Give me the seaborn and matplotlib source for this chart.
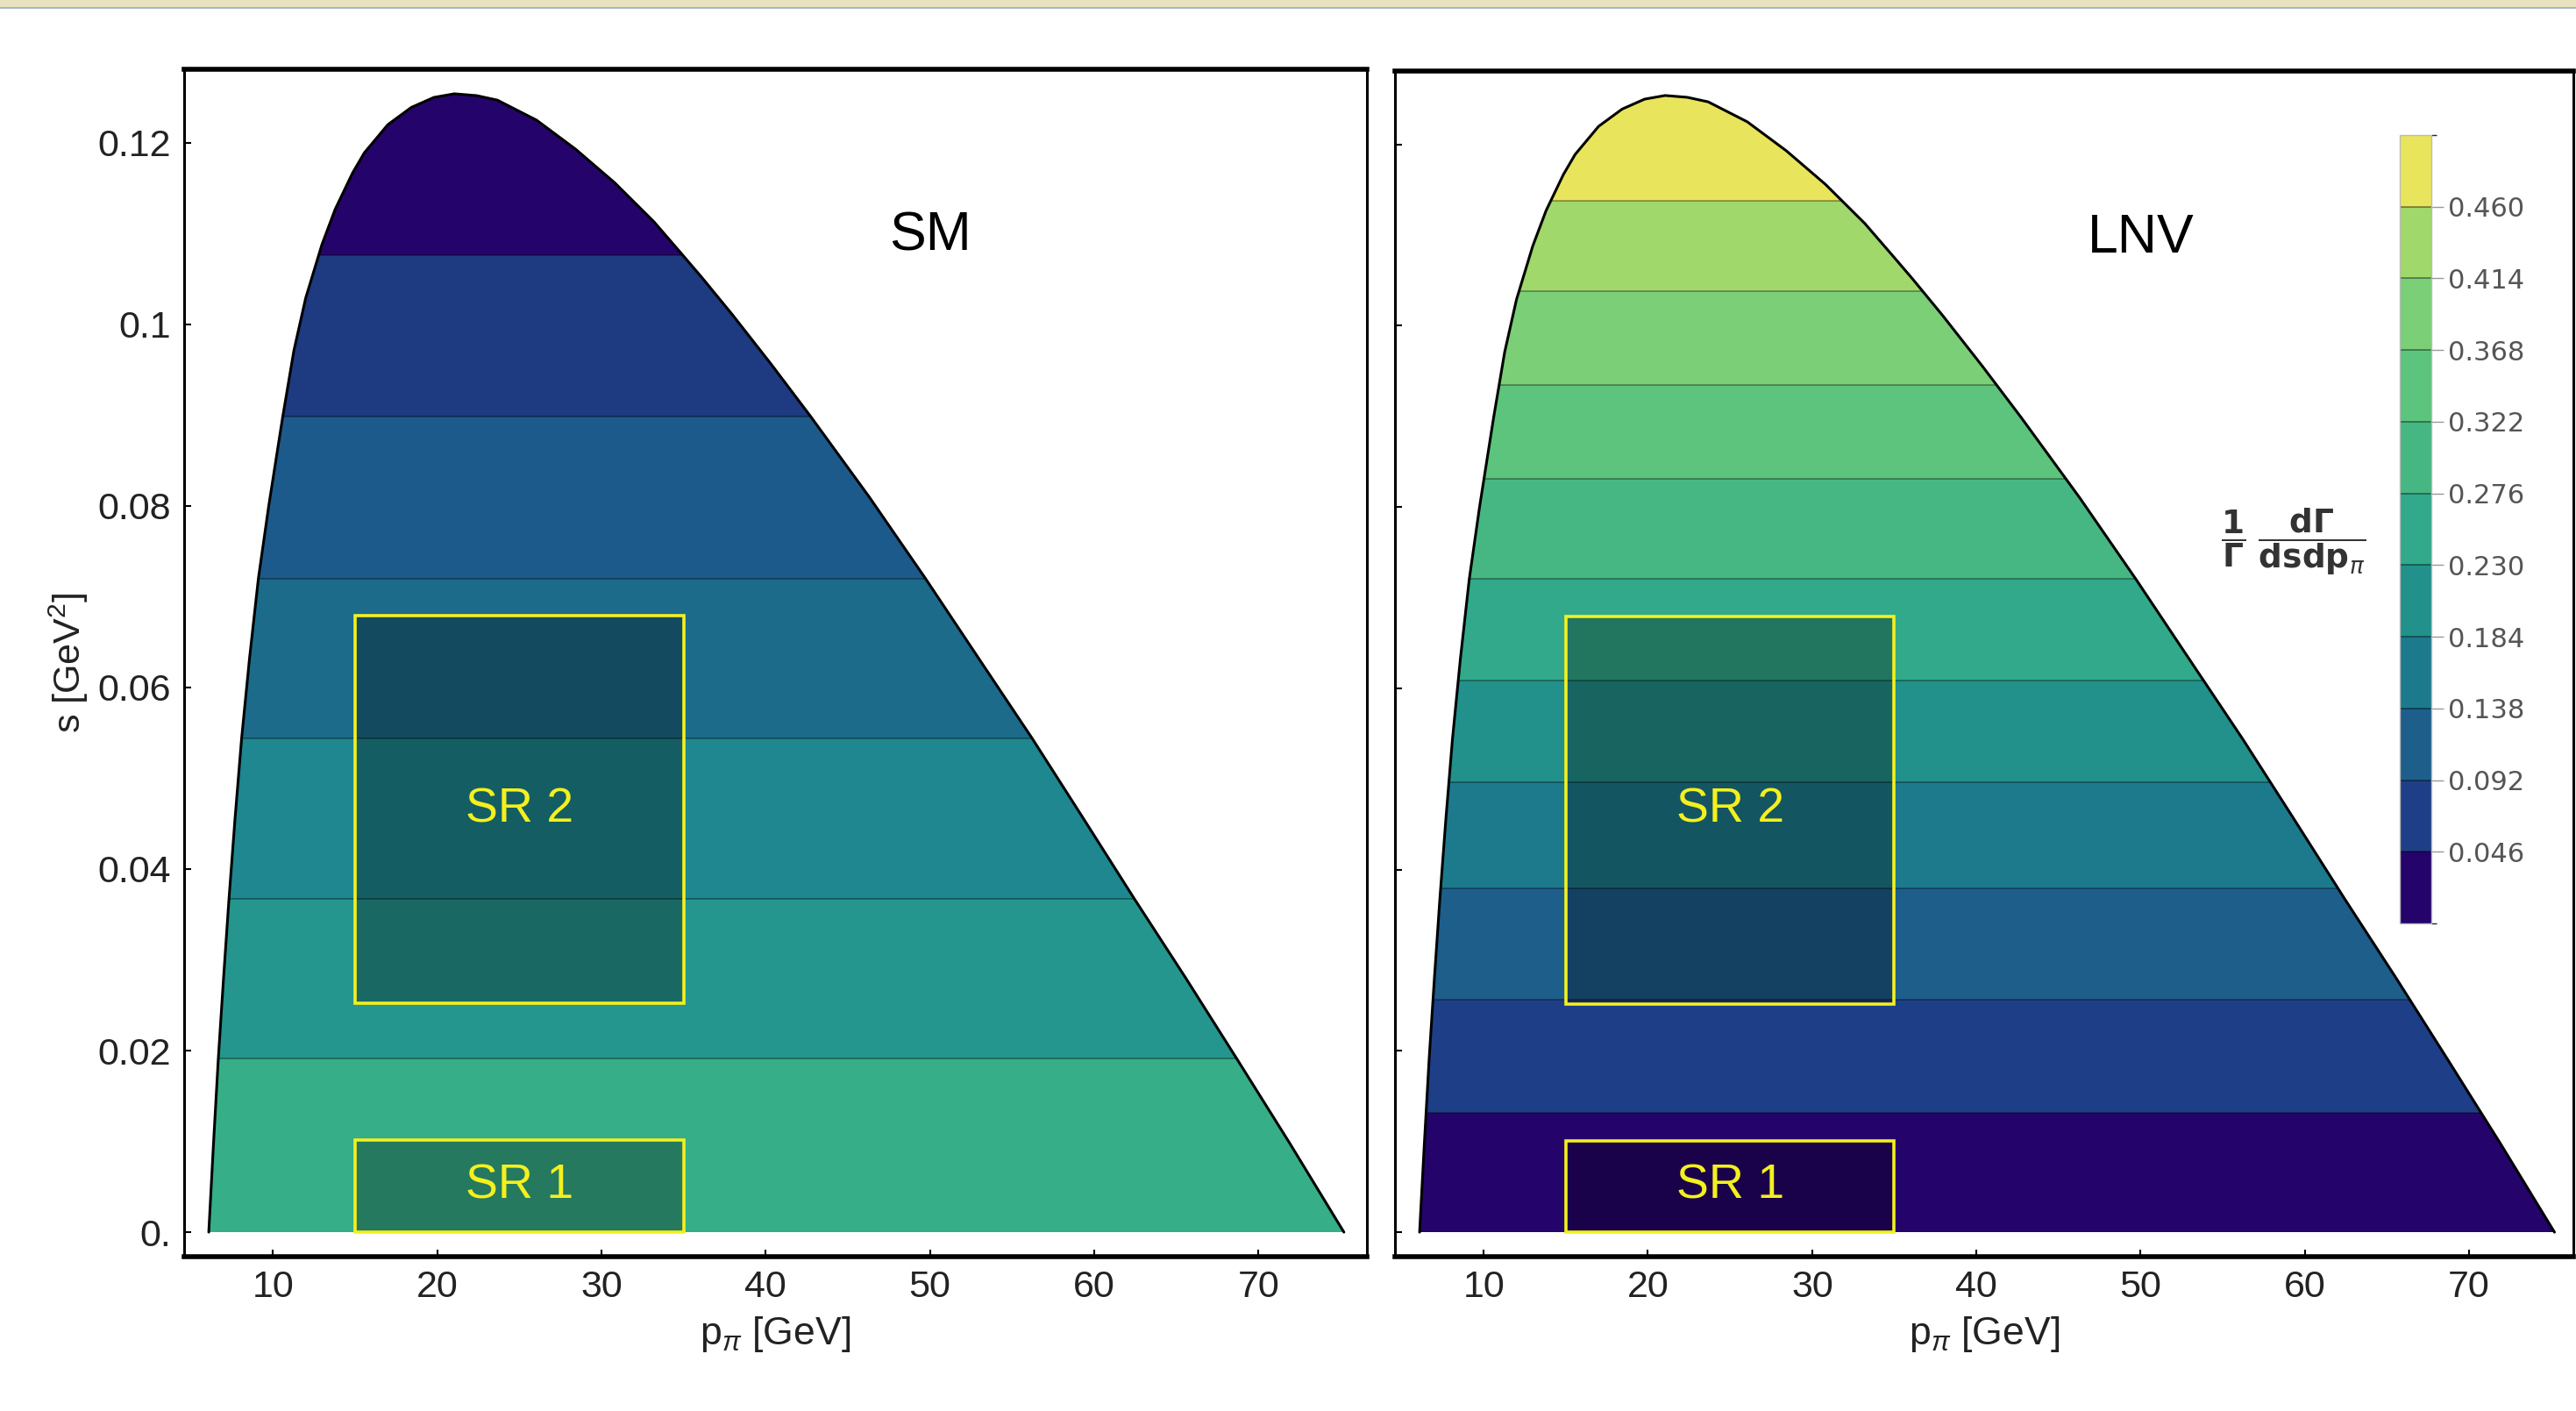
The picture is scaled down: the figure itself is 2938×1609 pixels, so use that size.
import numpy as np
import matplotlib
matplotlib.use("Agg")
import matplotlib.pyplot as plt
import seaborn as sns
import pandas as pd
from matplotlib.patches import Polygon, Rectangle
from matplotlib.colors import ListedColormap, BoundaryNorm
import matplotlib as mpl

# ---------------- data ----------------
# kinematic boundary of the (p_pi, s) region
boundary_p = [6.1, 6.38, 6.68, 7.0, 7.33, 7.7, 8.1, 8.58, 9.12, 9.75, 10.6, 11.28,
              12.0, 12.99, 13.8, 14.86, 15.57, 17.0, 18.43, 19.8, 21.05, 22.4, 23.67,
              26.05, 28.43, 30.81, 33.2, 34.87, 36.1, 37.96, 40.34, 42.72, 46.3,
              49.73, 52.97, 56.22, 59.33, 62.45, 65.57, 68.68, 71.9, 75.2]
boundary_s = [0.0, 0.0095, 0.0191, 0.0280, 0.0367, 0.0456, 0.0544, 0.0632, 0.0720,
              0.0800, 0.0898, 0.0971, 0.1029, 0.1088, 0.1127, 0.1167, 0.1189, 0.1220,
              0.1239, 0.1250, 0.1254, 0.1252, 0.1247, 0.1225, 0.1193, 0.1156, 0.1113,
              0.1078, 0.1052, 0.1011, 0.0956, 0.0899, 0.0810, 0.0720, 0.0632, 0.0544,
              0.0456, 0.0367, 0.0280, 0.0191, 0.0098, 0.0]

# SM panel: band edges in s and band colours (bottom to top)
sm_edges = [0.0, 0.0191, 0.0367, 0.0544, 0.0720, 0.0898, 0.1076, 0.14]
sm_colors = ["#36ae88", "#25968e", "#1e878f", "#1c6b8a", "#1d5a8c", "#1e3a80", "#24046a"]

# LNV panel: band edges in s and band values of (1/Gamma) dGamma/(ds dp)
lnv_edges = [0.0, 0.0132, 0.0256, 0.0379, 0.0496, 0.0609, 0.0721, 0.0831, 0.0935,
             0.1038, 0.1138, 0.14]
lnv_values = [0.023, 0.069, 0.115, 0.161, 0.207, 0.253, 0.299, 0.345, 0.391, 0.437, 0.483]

# colour bar
cbar_levels = [0.0, 0.046, 0.092, 0.138, 0.184, 0.230, 0.276, 0.322, 0.368, 0.414, 0.460, 0.506]
cbar_ticks = [0.046, 0.092, 0.138, 0.184, 0.230, 0.276, 0.322, 0.368, 0.414, 0.460]
cbar_colors = ["#24046a", "#1e3f87", "#1d5e8b", "#1d7a8d", "#22908b", "#31a98a",
               "#46b782", "#5cc47c", "#7bcf77", "#a0d86b", "#e8e45c"]

# signal regions: (name, p range, s range)
sr_names = ["SR 1", "SR 2"]
sr_p = [(15, 35), (15, 35)]
sr_s = [(0.0, 0.0101), (0.0252, 0.0679)]

x_ticks = [10, 20, 30, 40, 50, 60, 70]
y_ticks = [0.0, 0.02, 0.04, 0.06, 0.08, 0.10, 0.12]
y_ticklabels = ["0.", "0.02", "0.04", "0.06", "0.08", "0.1", "0.12"]

# ---------------- styling ----------------
sns.set_theme(style="white")
plt.rcParams["font.family"] = ["Liberation Sans", "DejaVu Sans"]
plt.rcParams["mathtext.fontset"] = "custom"
plt.rcParams["mathtext.rm"] = "Liberation Sans"
plt.rcParams["mathtext.it"] = "Liberation Sans:italic"

W, H = 2938, 1609
fig = plt.figure(figsize=(W / 100, H / 100), dpi=100)
fig.patch.set_facecolor("white")

# screenshot strip at the very top
fig.patches.append(Rectangle((0, 1 - 8 / H), 1, 8 / H, transform=fig.transFigure,
                             facecolor="#e9e2bf", edgecolor="none"))
fig.patches.append(Rectangle((0, 1 - 10 / H), 1, 2 / H, transform=fig.transFigure,
                             facecolor="#a9b6c9", edgecolor="none"))

ax_sm = fig.add_axes([210 / W, 1 - 1433 / H, (1559 - 210) / W, (1433 - 79) / H])
ax_lnv = fig.add_axes([1591 / W, 1 - 1433 / H, (2935 - 1591) / W, (1433 - 81) / H])
cax = fig.add_axes([2737 / W, 1 - 1053 / H, 36 / W, (1053 - 154) / H])

cmap = ListedColormap(cbar_colors)
norm = BoundaryNorm(cbar_levels, cmap.N)
lnv_colors = [cmap(norm(v)) for v in lnv_values]

df_boundary = pd.DataFrame({"p": boundary_p, "s": boundary_s})


def draw_panel(ax, edges, colors, title, xlim):
    poly = Polygon(np.column_stack([boundary_p, boundary_s]), closed=True,
                   facecolor="none", edgecolor="none", transform=ax.transData)
    ax.add_patch(poly)
    for lo, hi, c in zip(edges[:-1], edges[1:], colors):
        span = ax.axhspan(lo, hi, facecolor=c, edgecolor="none", lw=0, zorder=1)
        span.set_clip_path(poly)
    for e in edges[1:-1]:
        ln = ax.axhline(e, color="black", alpha=0.35, lw=1.3, zorder=2)
        ln.set_clip_path(poly)
    sns.lineplot(data=df_boundary, x="p", y="s", sort=False, estimator=None,
                 color="black", lw=2.2, ax=ax, zorder=3)
    for name, (p0, p1), (s0, s1) in zip(sr_names, sr_p, sr_s):
        ax.add_patch(Rectangle((p0, s0), p1 - p0, s1 - s0, facecolor="black",
                               alpha=0.3, edgecolor="none", zorder=4))
        ax.add_patch(Rectangle((p0, s0), p1 - p0, s1 - s0, facecolor="none",
                               edgecolor="#f4f01e", lw=2.6, zorder=5))
        ax.text((p0 + p1) / 2, (s0 + s1) / 2, name, color="#f4f01e", fontsize=40,
                ha="center", va="center", zorder=6)
    ax.text(50.0, 0.1097, title, fontsize=45, ha="center", va="center", color="black")
    ax.set_xlim(*xlim)
    ax.set_ylim(-0.0027, 0.1281)
    ax.set_xticks(x_ticks)
    ax.set_xticklabels([str(t) for t in x_ticks])
    ax.set_yticks(y_ticks)
    ax.tick_params(axis="both", direction="in", length=6, width=1.5, color="black",
                   labelsize=31, labelcolor="#222222", pad=11,
                   bottom=True, left=True, top=False, right=False)
    ax.set_xlabel(r"p$_\pi$ [GeV]", fontsize=32, color="#222222", labelpad=8)
    for side in ["top", "bottom"]:
        ax.spines[side].set_linewidth(4.0)
    for side in ["left", "right"]:
        ax.spines[side].set_linewidth(2.2)
    for sp in ax.spines.values():
        sp.set_color("black")
        sp.set_visible(True)
    ax.set_facecolor("white")


draw_panel(ax_sm, sm_edges, sm_colors, "SM", (4.6, 76.6))
draw_panel(ax_lnv, lnv_edges, lnv_colors, "LNV", (4.6, 76.35))

ax_sm.set_yticklabels(y_ticklabels)
ax_sm.set_ylabel(r"s [GeV$^2$]", fontsize=31, color="#222222", labelpad=6)
ax_lnv.set_yticklabels([])
ax_lnv.set_ylabel("")

# colour bar
cb = mpl.colorbar.ColorbarBase(cax, cmap=cmap, norm=norm, boundaries=cbar_levels,
                               ticks=cbar_ticks, spacing="proportional",
                               drawedges=True, orientation="vertical")
cb.dividers.set_color((0, 0, 0, 0.45))
cb.dividers.set_linewidth(1.2)
cb.outline.set_edgecolor("#bbbbbb")
cb.outline.set_linewidth(1.0)
cax.set_yticklabels([f"{t:.3f}" for t in cbar_ticks])
cax.tick_params(axis="y", direction="out", length=10, width=1.0, color="#999999",
                labelsize=22, labelcolor="#555555", pad=4, right=True, left=False)
for lab in cax.get_yticklabels():
    lab.set_fontfamily("DejaVu Sans")

fig.text(2616 / W, 1 - 618 / H,
         r"$\dfrac{\mathbf{1}}{\mathbf{\Gamma}}\ \dfrac{\mathbf{d\Gamma}}{\mathbf{dsdp}_{\pi}}$",
         fontsize=27, color="#333333", ha="center", va="center",
         math_fontfamily="dejavusans")

fig.savefig("out.png", dpi=100, facecolor="white")
